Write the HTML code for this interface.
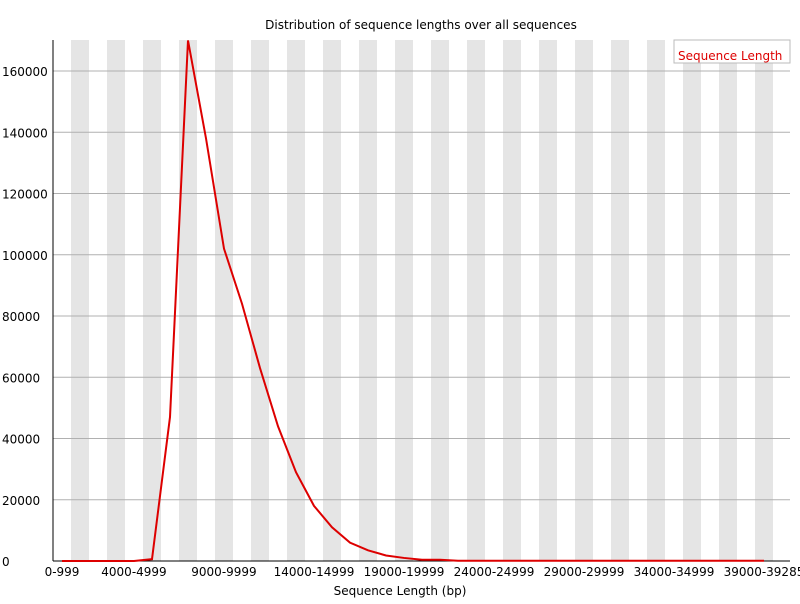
<!DOCTYPE html>
<html><head><meta charset="utf-8"><style>
body{margin:0;background:#fff;font-family:"DejaVu Sans","Liberation Sans",sans-serif}
svg text{font-family:"DejaVu Sans","Liberation Sans",sans-serif;font-size:12px}
</style></head><body>
<svg id="chart" width="800" height="600" xmlns="http://www.w3.org/2000/svg">
<text x="421" y="29" text-anchor="middle">Distribution of sequence lengths over all sequences</text>
<g id="stripes"></g><g id="grid"></g><g id="yticks"></g><g id="xticks"></g>
<line x1="53" y1="40" x2="53" y2="561" stroke="#000"/>
<line x1="53" y1="561" x2="790" y2="561" stroke="#000"/>
<polyline id="series" fill="none" stroke="#dd0000" stroke-width="2"/>
<text x="400" y="595" text-anchor="middle">Sequence Length (bp)</text>
<g>
<rect x="674" y="40" width="116" height="23" fill="#fff" stroke="#bbb"/>
<text x="678" y="60" fill="#dd0000">Sequence Length</text>
</g>
</svg>
<script>
const categories=[];for(let i=0;i<39;i++)categories.push((i*1000)+"-"+(i*1000+999));categories.push("39000-39285");
const values=[0,0,0,0,0,600,47000,170000,138000,102000,84000,63000,44000,29000,18000,11000,6000,3500,1800,1000,400,400,100,100,100,100,100,100,100,100,100,100,100,100,100,100,100,100,100,100];
const labelIdx=[0,4,9,14,19,24,29,34,39];
const yTicks=[0,20000,40000,60000,80000,100000,120000,140000,160000];
const NS="http://www.w3.org/2000/svg";
const x=i=>62+18*i, y=v=>561-v*490/160000;
function mk(t,a,p){const e=document.createElementNS(NS,t);for(const k in a)e.setAttribute(k,a[k]);document.getElementById(p).appendChild(e);return e;}
categories.forEach((c,i)=>{if(i%2==1){const r=mk('rect',{x:x(i)-9,y:40,width:18,height:521,fill:'#e5e5e5'},'stripes');

}
if(labelIdx.includes(i)){const t=mk('text',{x:x(i),y:576,'text-anchor':'middle'},'xticks');t.textContent=c;

}});
yTicks.forEach(v=>{if(v>0){const l=mk('line',{x1:53,x2:790,y1:y(v),y2:y(v),stroke:'#b0b0b0'},'grid');

}
const t=mk('text',{x:2,y:y(v)+5},'yticks');t.textContent=v;

});
document.getElementById('series').setAttribute('points',values.map((v,i)=>x(i)+","+y(v)).join(" "));
</script>
</body></html>
